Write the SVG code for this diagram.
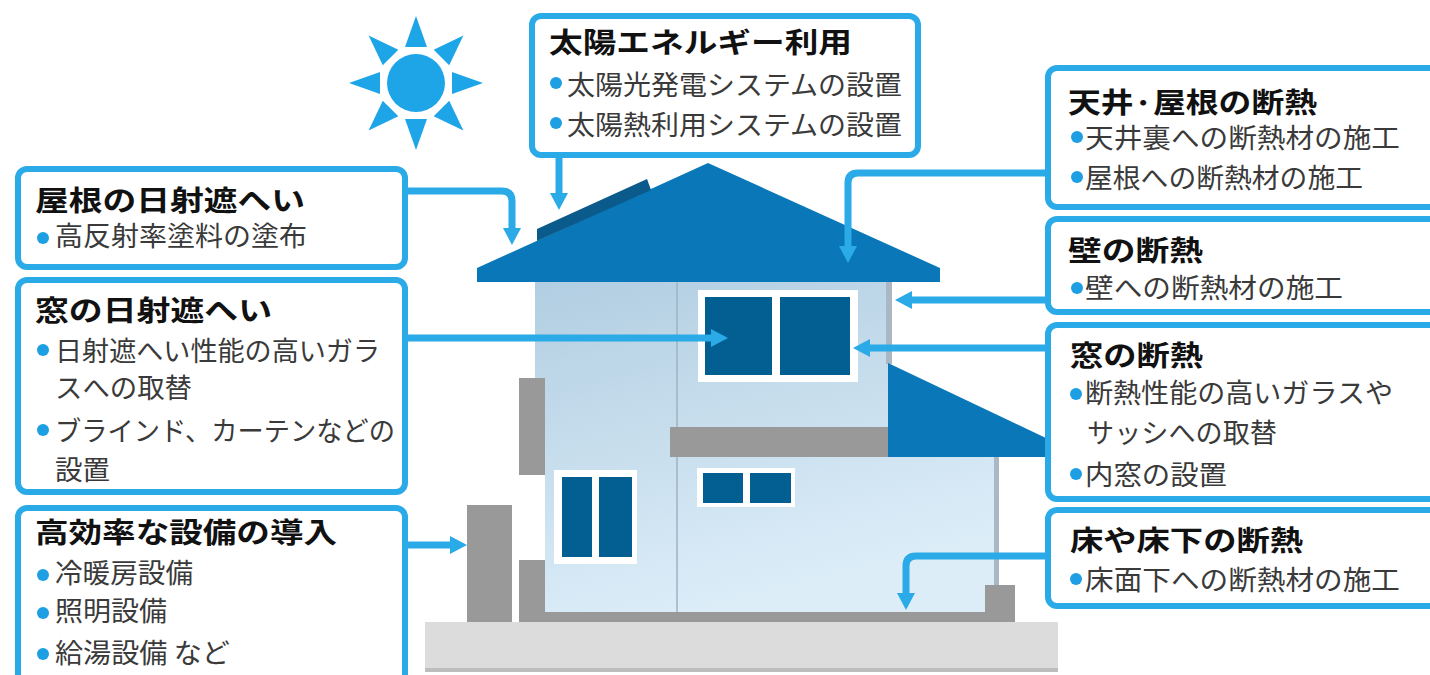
<svg xmlns="http://www.w3.org/2000/svg" xmlns:xlink="http://www.w3.org/1999/xlink" width="1430" height="675" viewBox="0 0 1430 675">
  <style>
    .box { fill: #ffffff; stroke: #2aaae6; stroke-width: 6; }
    .conn { fill: none; stroke: #2aaae6; stroke-width: 7; }
    .ttl { font-family: "Noto Sans CJK JP", "Noto Sans", sans-serif; font-weight: 700; font-size: 28px; fill: #111111; }
    .itm { font-family: "Noto Sans CJK JP", "Noto Sans", sans-serif; font-weight: 400; font-size: 27px; fill: #3a3a3a; }
    .dot { fill: #1e9fe3; }
    .roof { fill: #0a78b8; }
    .pane { fill: #035f92; }
    .frame { fill: #ffffff; }
    .grey { fill: #999999; }
  </style>
  <defs>
    <linearGradient id="wall" x1="0" y1="0" x2="0.35" y2="1">
      <stop offset="0" stop-color="#b2cee2"/>
      <stop offset="1" stop-color="#dcedf8"/>
    </linearGradient>
    <marker id="ah" markerUnits="userSpaceOnUse" markerWidth="18" markerHeight="20" viewBox="0 0 18 20" refX="1" refY="10" orient="auto">
      <path d="M0,1 L17,10 L0,19 z" fill="#2aaae6"/>
    </marker>
    <polygon id="ray" points="405,47 416,16 427,47" fill="#1ea5e8"/>
  </defs>

  <rect width="1430" height="675" fill="#ffffff"/>

  <!-- sun -->
  <g id="sun">
    <circle cx="416" cy="83" r="29" fill="#1ea5e8"/>
    <use xlink:href="#ray"/>
    <use xlink:href="#ray" transform="rotate(45 416 83)"/>
    <use xlink:href="#ray" transform="rotate(90 416 83)"/>
    <use xlink:href="#ray" transform="rotate(135 416 83)"/>
    <use xlink:href="#ray" transform="rotate(180 416 83)"/>
    <use xlink:href="#ray" transform="rotate(225 416 83)"/>
    <use xlink:href="#ray" transform="rotate(270 416 83)"/>
    <use xlink:href="#ray" transform="rotate(315 416 83)"/>
  </g>

  <!-- house -->
  <g id="house">
    <!-- ground slab -->
    <rect x="425" y="622" width="633" height="50" fill="#dcdcdc"/>
    <rect x="425" y="668" width="633" height="4" fill="#bdbdbd"/>
    <!-- walls -->
    <path d="M535,282 H888 V457 H995 V612 H545 V475 H535 Z" fill="url(#wall)"/>
    <rect x="886" y="282" width="6" height="82" fill="#a9b8c4"/>
    <rect x="994" y="457" width="5" height="155" fill="#a9b8c4"/>
    <line x1="677" y1="282" x2="677" y2="612" stroke="#9fb2c2" stroke-width="1.5"/>
    <!-- main roof and solar panel -->
    <polygon class="roof" points="477,268 708,163 940,268 940,282 477,282"/>
    <polygon points="537,241 537,229 647,179 651,190" fill="#0b5a8c"/>
    <!-- lean-to roof -->
    <polygon class="roof" points="888,363 1048,439 1048,457 888,457"/>
    <!-- floor band -->
    <rect class="grey" x="670" y="427" width="218" height="30"/>
    <!-- upper window -->
    <rect class="frame" x="698" y="290" width="160" height="92"/>
    <rect class="pane" x="705" y="297" width="67" height="78"/>
    <rect class="pane" x="780" y="297" width="70" height="78"/>
    <!-- lower left window -->
    <rect class="frame" x="554" y="470" width="83" height="94"/>
    <rect class="pane" x="562" y="477" width="30" height="80"/>
    <rect class="pane" x="599" y="477" width="33" height="80"/>
    <!-- lower middle window -->
    <rect class="frame" x="697" y="468" width="98" height="39"/>
    <rect class="pane" x="703" y="473" width="40" height="30"/>
    <rect class="pane" x="750" y="473" width="41" height="30"/>
    <!-- grey fittings, base -->
    <rect class="grey" x="519" y="378" width="26" height="97"/>
    <rect class="grey" x="519" y="560" width="26" height="62"/>
    <rect class="grey" x="467" y="505" width="45" height="117"/>
    <rect class="grey" x="545" y="612" width="470" height="10"/>
    <rect class="grey" x="985" y="585" width="30" height="37"/>
  </g>

  <!-- connectors -->
  <g id="connectors">
    <path class="conn" d="M405,191 H502 Q512,191 512,201 V229" marker-end="url(#ah)"/>
    <path class="conn" d="M559,158 V194" marker-end="url(#ah)"/>
    <path class="conn" d="M405,338 H712" marker-end="url(#ah)"/>
    <path class="conn" d="M405,545 H451" marker-end="url(#ah)"/>
    <path class="conn" d="M1048,173 H858 Q848,173 848,183 V247" marker-end="url(#ah)"/>
    <path class="conn" d="M1048,300 H911" marker-end="url(#ah)"/>
    <path class="conn" d="M1048,348 H869" marker-end="url(#ah)"/>
    <path class="conn" d="M1048,556 H916 Q906,556 906,566 V594" marker-end="url(#ah)"/>
  </g>

  <!-- solar energy -->
  <g id="solar">
    <rect class="box" x="532" y="16" width="386" height="139" rx="9"/>
    <text class="ttl" x="549" y="53" textLength="303" lengthAdjust="spacingAndGlyphs">太陽エネルギー利用</text>
    <circle class="dot" cx="556" cy="83" r="6"/>
    <text class="itm" x="567" y="95" textLength="335" lengthAdjust="spacingAndGlyphs">太陽光発電システムの設置</text>
    <circle class="dot" cx="556" cy="123" r="6"/>
    <text class="itm" x="567" y="135" textLength="335" lengthAdjust="spacingAndGlyphs">太陽熱利用システムの設置</text>
  </g>

  <!-- roof shading -->
  <g id="roof-shade">
    <rect class="box" x="18" y="169" width="387" height="98" rx="9"/>
    <text class="ttl" x="35" y="211" textLength="270" lengthAdjust="spacingAndGlyphs">屋根の日射遮へい</text>
    <circle class="dot" cx="43" cy="238" r="6"/>
    <text class="itm" x="55" y="246" textLength="252" lengthAdjust="spacingAndGlyphs">高反射率塗料の塗布</text>
  </g>

  <!-- window shading -->
  <g id="window-shade">
    <rect class="box" x="18" y="280" width="387" height="212" rx="9"/>
    <text class="ttl" x="35" y="321" textLength="237" lengthAdjust="spacingAndGlyphs">窓の日射遮へい</text>
    <circle class="dot" cx="43" cy="350" r="6"/>
    <text class="itm" x="55" y="361" textLength="325" lengthAdjust="spacingAndGlyphs">日射遮へい性能の高いガラ</text>
    <text class="itm" x="55" y="398" textLength="137" lengthAdjust="spacingAndGlyphs">スへの取替</text>
    <circle class="dot" cx="43" cy="430" r="6"/>
    <text class="itm" x="55" y="441" textLength="340" lengthAdjust="spacingAndGlyphs">ブラインド、カーテンなどの</text>
    <text class="itm" x="55" y="480" textLength="55" lengthAdjust="spacingAndGlyphs">設置</text>
  </g>

  <!-- efficient equipment -->
  <g id="equipment">
    <rect class="box" x="18" y="508" width="387" height="200" rx="9"/>
    <text class="ttl" x="35" y="543" textLength="302" lengthAdjust="spacingAndGlyphs">高効率な設備の導入</text>
    <circle class="dot" cx="43" cy="575" r="6"/>
    <text class="itm" x="55" y="583" textLength="138" lengthAdjust="spacingAndGlyphs">冷暖房設備</text>
    <circle class="dot" cx="43" cy="613" r="6"/>
    <text class="itm" x="55" y="621" textLength="112" lengthAdjust="spacingAndGlyphs">照明設備</text>
    <circle class="dot" cx="43" cy="654" r="6"/>
    <text class="itm" x="55" y="663" textLength="175" lengthAdjust="spacingAndGlyphs">給湯設備 など</text>
  </g>

  <!-- ceiling / roof insulation -->
  <g id="ceiling-insulation">
    <rect class="box" x="1048" y="68" width="400" height="139" rx="9"/>
    <text class="ttl" x="1068" y="113" textLength="249" lengthAdjust="spacingAndGlyphs">天井·屋根の断熱</text>
    <circle class="dot" cx="1077" cy="137" r="6"/>
    <text class="itm" x="1085" y="148" textLength="315" lengthAdjust="spacingAndGlyphs">天井裏への断熱材の施工</text>
    <circle class="dot" cx="1077" cy="177" r="6"/>
    <text class="itm" x="1085" y="188" textLength="278" lengthAdjust="spacingAndGlyphs">屋根への断熱材の施工</text>
  </g>

  <!-- wall insulation -->
  <g id="wall-insulation">
    <rect class="box" x="1048" y="219" width="400" height="93" rx="9"/>
    <text class="ttl" x="1068" y="261" textLength="135" lengthAdjust="spacingAndGlyphs">壁の断熱</text>
    <circle class="dot" cx="1077" cy="288" r="6"/>
    <text class="itm" x="1085" y="298" textLength="258" lengthAdjust="spacingAndGlyphs">壁への断熱材の施工</text>
  </g>

  <!-- window insulation -->
  <g id="window-insulation">
    <rect class="box" x="1048" y="325" width="400" height="174" rx="9"/>
    <text class="ttl" x="1070" y="366" textLength="133" lengthAdjust="spacingAndGlyphs">窓の断熱</text>
    <circle class="dot" cx="1076" cy="394" r="6"/>
    <text class="itm" x="1085" y="403" textLength="308" lengthAdjust="spacingAndGlyphs">断熱性能の高いガラスや</text>
    <text class="itm" x="1087" y="443" textLength="190" lengthAdjust="spacingAndGlyphs">サッシへの取替</text>
    <circle class="dot" cx="1076" cy="474" r="6"/>
    <text class="itm" x="1085" y="485" textLength="142" lengthAdjust="spacingAndGlyphs">内窓の設置</text>
  </g>

  <!-- floor insulation -->
  <g id="floor-insulation">
    <rect class="box" x="1048" y="510" width="400" height="96" rx="9"/>
    <text class="ttl" x="1070" y="551" textLength="233" lengthAdjust="spacingAndGlyphs">床や床下の断熱</text>
    <circle class="dot" cx="1076" cy="579" r="6"/>
    <text class="itm" x="1085" y="590" textLength="315" lengthAdjust="spacingAndGlyphs">床面下への断熱材の施工</text>
  </g>
</svg>
